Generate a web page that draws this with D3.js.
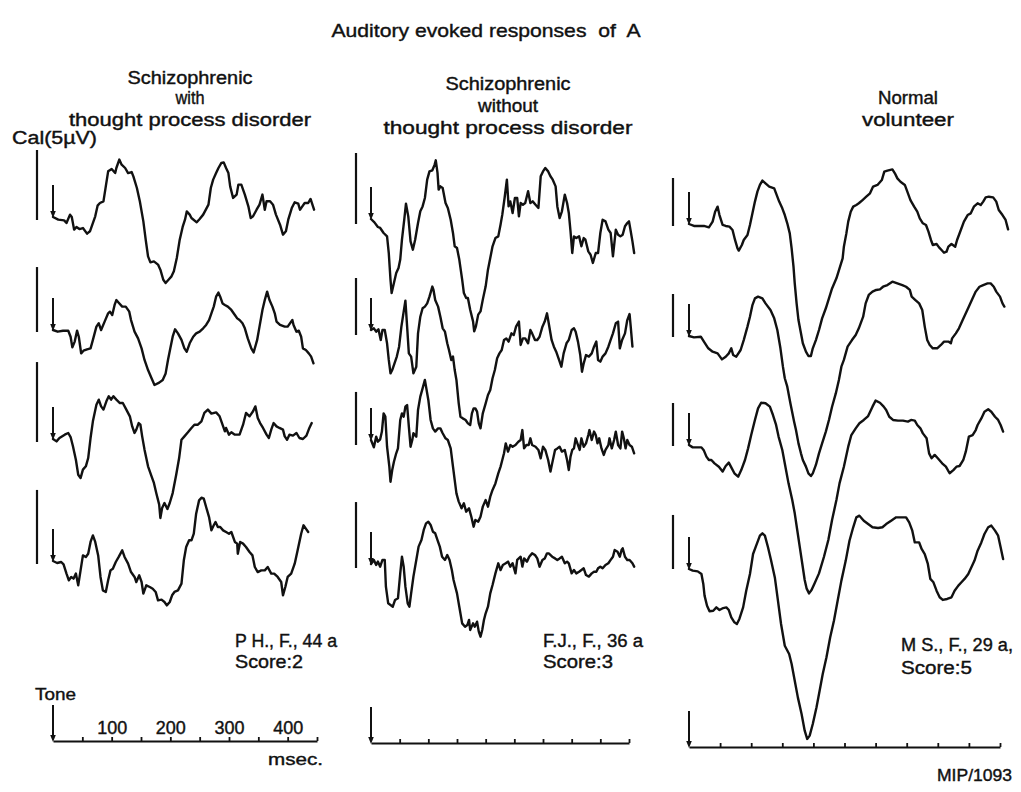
<!DOCTYPE html>
<html>
<head>
<meta charset="utf-8">
<script src="https://cdn.jsdelivr.net/npm/d3@7"></script>
<style>
  html, body { margin: 0; padding: 0; background: #fff; }
  svg { display: block; }
  text { font-family: "Liberation Sans", Arial, sans-serif; fill: #111; stroke: #111; stroke-width: 0.4px; }
</style>
</head>
<body>
<svg id="chart" width="1021" height="792"></svg>
<script>
// ---- Text content ----
const mainTitle = "Auditory evoked responses  of  A";
const groupTitles = [
  ["Schizophrenic", "with", "thought process disorder"],
  ["Schizophrenic", "without", "thought process disorder"],
  ["Normal", "volunteer"]
];
const subjects = ["P H., F., 44 a", "F.J., F., 36 a", "M S., F., 29 a,"];
const scores = ["Score:2", "Score:3", "Score:5"];
const calLabel = "Cal(5\u00b5V)";
const toneLabel = "Tone";
const unitLabel = "msec.";
const figureId = "MIP/1093";

// ---- Time base (ms) ----
const sweepMs = [450, 450, 500];
const tickStepMs = 50;
const tickLabels = [100, 200, 300, 400];

// Height of the 5 µV calibration pulse for each recording, in trace deflection units
const calDeflection = [
  [5.0, 4.64, 5.71, 5.29],
  [5.07, 4.07, 3.79, 4.71],
  [3.43, 3.07, 3.07, 3.86]
];

// ---- Evoked responses: [time ms, deflection] (positive = up) ----
// Schizophrenic with thought process disorder (P.H.)
const p1r1 = [[0,0],[9,-0.19],[19,-0.24],[23,-0.43],[29,0.17],[32,0],[36,-0.9],[40,-0.71],[45,-0.86],[51,-0.79],[58,-1.19],[63,-1.02],[72,0.05],[76,0.81],[80,1.0],[86,1.12],[90,2.19],[94,3.26],[100,3.43],[106,3.14],[108,3.5],[113,4.1],[117,3.74],[123,3.5],[128,3.14],[134,3.21],[137,2.9],[143,2.07],[148,1.12],[154,-0.31],[158,-1.62],[162,-2.81],[166,-3.24],[172,-3.17],[179,-3.4],[183,-3.76],[188,-4.48],[192,-4.71],[198,-4.43],[202,-4.24],[206,-3.88],[211,-2.93],[216,-1.62],[221,-0.71],[225,-0.19],[228,0.4],[233,0.17],[236,-0.07],[245,-0.38],[250,-0.14],[256,0.17],[265,0.88],[269,2.07],[273,2.67],[278,3.14],[282,3.5],[287,3.86],[291,3.9],[295,3.5],[299,3.14],[302,2.19],[307,1.36],[313,1.6],[316,2.31],[321,2.31],[327,1.6],[333,0.76],[337,-0.07],[341,0.05],[347,0.52],[352,0.88],[357,1.6],[361,0.52],[364,1.12],[370,1.12],[375,0.88],[380,0.17],[387,-0.55],[392,-1.26],[397,-1.02],[401,-0.19],[407,0.64],[412,1.05],[418,0.95],[421,0.52],[425,0.76],[429,1.0],[435,1.0],[439,1.29],[445,0.52]];
const p1r2 = [[0,0],[8,-0.12],[17,-0.05],[26,-0.05],[30,-0.48],[33,-1.24],[37,-0.83],[41,-0.05],[44,-0.48],[48,-1.67],[52,-1.48],[58,-1.38],[64,-1.31],[68,-0.71],[74,0.24],[78,0.48],[82,0],[88,0.6],[94,1.19],[97,1.31],[101,1.07],[105,1.79],[108,2.14],[112,1.95],[118,1.67],[124,1.67],[130,1.31],[133,0.71],[139,-0.12],[145,-0.6],[151,-1.31],[156,-2.14],[162,-2.86],[168,-3.45],[173,-3.93],[181,-3.76],[187,-3.57],[192,-3.1],[196,-2.14],[200,-1.31],[204,-0.48],[208,0.05],[213,-0.24],[219,-0.71],[224,-1.31],[228,-1.55],[233,-0.95],[239,-0.48],[244,-0.24],[250,-0.12],[256,0.12],[261,0.36],[266,0.71],[270,1.19],[274,1.67],[278,2.38],[282,2.67],[285,2.38],[289,1.9],[293,1.79],[298,1.67],[304,1.43],[310,1.07],[314,0.83],[318,0.71],[323,0.48],[327,0.12],[332,-0.6],[338,-1.31],[342,-1.6],[348,-0.71],[352,0.24],[357,1.43],[361,2.14],[365,2.74],[369,2.14],[374,1.67],[378,1.19],[381,0.6],[387,0.36],[395,0.24],[400,0.24],[408,0.71],[410,0.36],[415,-0.12],[419,-0.05],[423,-0.48],[426,-1.31],[431,-1.43],[436,-1.67],[440,-1.9],[444,-2.38]];
const p1r3 = [[0,0],[6,-0.17],[11,0.07],[20,0.31],[26,0.43],[30,0.14],[34,-0.52],[39,-1.48],[43,-2.55],[47,-2.79],[51,-2.19],[56,-1.95],[60,-1.36],[64,0.07],[68,1.26],[74,2.45],[78,2.81],[82,2.33],[86,2.1],[91,2.69],[95,3.05],[99,2.81],[103,3.05],[108,2.81],[114,2.57],[119,2.57],[125,2.1],[131,1.62],[135,0.9],[139,0.43],[142,0.67],[146,1.14],[149,1.02],[152,0.19],[156,-0.76],[162,-1.95],[168,-2.67],[172,-3.14],[176,-3.86],[181,-4.69],[183,-5.64],[186,-4.93],[190,-4.57],[195,-5.0],[199,-4.57],[204,-3.86],[210,-2.55],[215,-1.36],[219,-0.05],[224,0.19],[230,0.48],[236,0.79],[241,1.02],[247,1.02],[253,1.26],[258,1.86],[264,2.1],[270,1.81],[278,1.9],[284,1.62],[290,0.9],[293,0.55],[295,0.79],[300,0.31],[304,0.48],[310,0.31],[318,0.31],[324,1.02],[329,1.86],[335,1.62],[341,1.98],[345,2.33],[349,1.5],[353,1.14],[358,0.79],[364,0.31],[368,0.07],[372,0.67],[376,1.14],[381,0.9],[386,0.79],[392,0.67],[395,0.19],[399,-0.05],[403,0.31],[409,0.24],[415,0.43],[420,0.07],[426,0],[432,0.24],[437,0.79],[441,1.14]];
const p1r4 = [[0,0],[7,-0.14],[14,-0.07],[18,-0.24],[23,-0.9],[27,-1.38],[31,-1.14],[35,-1.26],[39,-0.9],[43,-1.74],[47,-0.67],[51,0.4],[56,0.29],[60,0.52],[64,1.36],[68,1.83],[72,1.36],[77,0.4],[81,-1.14],[85,-2.1],[90,-2.21],[94,-1.38],[98,-0.67],[102,-0.55],[107,-0.07],[112,0.29],[118,0.76],[122,0.29],[128,-0.19],[133,-0.79],[139,-1.14],[142,-1.5],[147,-1.02],[151,-1.5],[154,-2.33],[159,-1.74],[165,-1.86],[170,-1.98],[175,-2.21],[179,-2.81],[185,-2.76],[190,-2.93],[194,-3.17],[199,-2.93],[203,-2.45],[207,-2.21],[213,-2.1],[219,-1.62],[223,0.05],[227,1.0],[232,1.48],[236,1.48],[240,1.95],[244,3.38],[249,4.33],[253,4.52],[257,4.45],[261,3.86],[266,3.14],[270,2.19],[274,2.55],[277,2.79],[281,2.43],[285,2.43],[290,2.19],[295,2.07],[300,1.95],[304,2.07],[310,1.36],[314,1.24],[315,0.52],[319,1.36],[324,1.24],[329,1.0],[335,0.64],[340,0.4],[344,-0.43],[349,-0.79],[355,-0.67],[361,-0.67],[366,-0.43],[372,-0.9],[377,-0.9],[383,-1.14],[389,-1.5],[392,-2.45],[396,-1.86],[400,-1.14],[406,-0.9],[412,-0.19],[417,0.76],[423,1.95],[427,2.55],[431,2.31],[435,2.07]];

// Schizophrenic without thought process disorder (F.J.)
const p2r1 = [[0,0],[6,-0.24],[12,-0.57],[16,-0.64],[22,-1.0],[28,-1.24],[31,-2.43],[34,-4.33],[36,-5.29],[40,-4.57],[44,-3.86],[48,-3.5],[51,-2.9],[54,-1.48],[58,-0.05],[61,1.1],[65,0.19],[69,-1.6],[73,-2.19],[77,-1.48],[82,-0.29],[86,0.55],[90,0.9],[94,1.5],[98,2.81],[102,3.4],[107,3.48],[111,3.88],[113,4.19],[116,3.29],[118,2.1],[121,2.33],[125,2.21],[130,1.14],[134,0.79],[139,-0.05],[143,-1.0],[146,-1.95],[150,-2.07],[154,-2.9],[159,-4.33],[162,-5.29],[166,-5.64],[169,-5.64],[173,-6.48],[178,-7.31],[180,-8.02],[183,-7.67],[187,-6.83],[191,-6.6],[195,-5.76],[200,-4.81],[204,-3.62],[208,-2.79],[212,-1.95],[217,-1.36],[222,-1.24],[226,-0.4],[229,0.31],[233,1.5],[237,2.81],[240,0.9],[243,1.26],[247,0.43],[251,1.5],[255,1.5],[258,0.19],[261,1.14],[265,1.02],[269,1.14],[274,1.98],[278,1.14],[282,1.26],[287,1.02],[292,0.79],[296,3.05],[300,3.4],[304,3.64],[309,3.4],[313,3.05],[317,2.81],[322,2.33],[325,0.9],[329,0.07],[333,0.55],[338,1.74],[342,1.14],[345,0.43],[348,-0.88],[351,-2.43],[354,-1.24],[358,-1.36],[363,-1.24],[367,-1.95],[371,-1.36],[374,-1.48],[379,-2.31],[383,-2.55],[387,-3.14],[392,-2.43],[396,-2.43],[400,-1.0],[404,-0.05],[409,-0.17],[414,-0.76],[418,-1.0],[422,-2.67],[427,-0.76],[431,-1.12],[435,-1.24],[439,-1.12],[443,-0.52],[447,-0.29],[450,-0.17],[453,-0.88],[456,-1.6],[459,-2.43]];
const p2r2 = [[0,0],[5,0.12],[9,-0.12],[13,0.05],[17,-0.71],[20,0],[24,0],[28,-0.95],[31,-2.14],[34,-3.1],[37,-2.86],[41,-2.38],[45,-1.9],[49,-1.19],[53,0.24],[57,1.31],[60,2.1],[63,0.24],[66,-1.67],[70,-1.9],[74,-3.1],[79,-2.62],[82,-0.24],[86,0.95],[90,1.55],[94,1.67],[98,1.9],[102,2.38],[107,3.1],[109,2.86],[112,2.14],[117,1.67],[121,0.95],[125,0.12],[129,-0.12],[133,-0.95],[136,-1.43],[140,-2.14],[143,-1.9],[146,-2.86],[149,-3.57],[153,-5.24],[156,-6.19],[160,-6.31],[165,-6.43],[169,-6.67],[173,-6.79],[176,-5.95],[179,-5.6],[182,-5.6],[185,-5.83],[188,-6.67],[191,-7.02],[195,-5.95],[200,-5.24],[204,-4.64],[208,-4.29],[212,-3.45],[216,-2.86],[220,-2.02],[224,-1.67],[228,-1.43],[232,-0.71],[236,-0.6],[240,-0.83],[245,-0.24],[249,-0.36],[253,0.24],[258,0.6],[261,-1.07],[265,-0.6],[269,-0.6],[274,-0.95],[278,0],[281,-0.24],[286,-0.71],[290,-0.71],[294,-0.48],[299,0.24],[303,0.6],[307,1.19],[310,0.48],[315,-0.71],[319,-1.19],[323,-1.55],[328,-2.14],[332,-2.62],[336,-1.67],[341,-0.95],[345,-0.71],[350,0],[354,0.12],[357,-0.12],[361,-0.83],[365,-1.79],[368,-2.98],[371,-2.38],[375,-1.79],[380,-1.9],[385,-1.67],[389,-1.19],[393,-0.83],[396,-2.14],[400,-2.26],[404,-1.9],[409,-1.67],[414,-1.19],[418,-0.71],[422,-0.24],[427,0.48],[431,0.6],[434,-1.31],[438,-0.71],[443,-0.24],[447,0.71],[451,1.14],[453,0.24],[456,-1.19]];
const p2r3 = [[0,0],[5,-0.52],[9,0.24],[12,-0.12],[16,0.05],[19,0.6],[22,1.9],[25,1.67],[28,-0.48],[32,-1.9],[34,-2.98],[37,-2.14],[40,-1.55],[44,-0.95],[47,-0.6],[51,1.43],[54,1.9],[57,1.67],[60,2.38],[63,2.5],[66,0.95],[69,-0.48],[72,0],[74,0.48],[79,0.24],[82,2.14],[86,3.1],[90,3.69],[94,4.29],[96,3.81],[100,2.86],[104,1.43],[108,0.83],[112,0.6],[117,0.83],[121,0.83],[125,0.48],[130,0.12],[134,0],[139,-0.6],[143,-1.9],[146,-2.86],[149,-3.81],[153,-4.4],[158,-4.88],[162,-4.52],[166,-5.12],[171,-4.88],[175,-5.48],[179,-6.19],[182,-5.71],[187,-5.83],[191,-5.48],[195,-4.76],[200,-4.29],[204,-4.76],[208,-4.05],[212,-3.57],[217,-3.1],[222,-2.38],[226,-1.9],[229,-1.43],[232,-0.95],[235,-0.24],[239,-0.83],[243,-0.36],[247,-0.48],[252,-0.36],[257,-0.12],[261,0],[264,0.71],[267,-0.6],[271,-0.36],[275,-0.36],[278,0.12],[281,-0.36],[287,-0.48],[292,-0.71],[296,-1.31],[300,-0.48],[304,-0.71],[309,-1.43],[313,-2.26],[316,-1.67],[321,-0.71],[325,-0.6],[329,-0.48],[333,-0.83],[338,-0.71],[342,-1.43],[345,-2.14],[348,-1.19],[351,-0.71],[354,-0.6],[357,0.12],[360,-0.24],[364,-0.71],[367,0.12],[371,-0.48],[375,-0.24],[379,0.36],[381,0.71],[385,0],[389,0.6],[392,0.36],[395,-0.24],[398,0.12],[402,-0.6],[406,-1.07],[409,-0.71],[414,-0.36],[416,0.12],[420,-0.6],[424,0],[427,0.6],[431,-0.36],[435,-0.6],[438,0.6],[441,0.12],[444,-0.6],[447,0],[451,-0.36],[455,-0.48],[459,-0.95]];
const p2r4 = [[0,0],[5,0.29],[9,-0.07],[12,0.17],[16,-0.19],[20,0.29],[24,0.29],[26,-1.62],[30,-2.81],[34,-2.93],[38,-3.05],[42,-2.57],[47,-2.45],[51,-0.67],[54,0.52],[57,-0.19],[60,-1.62],[64,-2.81],[67,-3.05],[70,-2.1],[74,-0.9],[79,0.29],[83,1.24],[88,1.71],[92,2.43],[96,2.9],[100,3.02],[104,2.79],[108,2.31],[112,2.19],[116,1.71],[120,1.24],[124,0.52],[129,0.29],[133,0.64],[137,0.29],[141,-0.43],[144,-1.14],[147,-1.62],[150,-2.1],[154,-3.05],[159,-4.24],[164,-4.48],[168,-4.36],[171,-4.0],[173,-4.71],[178,-4.24],[181,-4.48],[185,-4.12],[188,-4.83],[191,-5.19],[194,-4.71],[197,-4.0],[200,-3.52],[204,-3.05],[208,-2.1],[212,-1.5],[217,-0.67],[222,0.05],[226,-0.43],[230,-0.07],[235,0.05],[239,0.17],[243,-0.19],[247,0.05],[252,-0.67],[255,0.29],[261,0.52],[264,-0.19],[267,0.4],[272,0.17],[276,0.52],[281,0.76],[286,0.64],[290,0.4],[294,-0.19],[299,0.29],[303,0.4],[307,0.76],[310,0.76],[316,0.52],[321,0.4],[325,0.29],[329,0.4],[333,0.52],[338,0.05],[342,0.17],[345,0.05],[350,-0.67],[354,-0.43],[358,-0.67],[363,-0.55],[367,-0.43],[371,-0.31],[375,-0.79],[380,-0.9],[385,-0.67],[389,-0.55],[393,-0.55],[396,-0.31],[400,-0.19],[404,-0.31],[409,-0.07],[414,0.05],[418,0.29],[422,0.52],[425,1.0],[430,0.88],[434,0.52],[437,1.0],[439,1.12],[443,0.52],[447,0.29],[451,0.29],[456,0.05],[459,-0.19]];

// Normal volunteer (M.S.)
const p3r1 = [[0,0],[8,-0.14],[16,-0.14],[24,-0.14],[32,-0.24],[38,0.17],[42,0.88],[46,1.24],[49,0.64],[54,-0.07],[59,-0.14],[65,-0.19],[70,-0.43],[74,-1.14],[78,-1.74],[80,-1.9],[85,-1.5],[88,-1.14],[94,-0.79],[98,-0.07],[102,0.76],[106,1.6],[110,2.31],[114,2.79],[118,3.1],[123,2.9],[129,2.67],[137,2.55],[140,2.19],[145,1.6],[150,1.12],[154,0.64],[158,0.05],[162,-0.67],[165,-1.74],[168,-3.05],[170,-4.24],[173,-5.67],[176,-6.86],[180,-7.81],[183,-8.52],[188,-9.12],[192,-9.43],[196,-9.43],[199,-8.88],[204,-8.29],[209,-7.57],[214,-6.74],[220,-6.02],[225,-5.31],[230,-4.6],[237,-3.88],[242,-3.17],[247,-2.45],[249,-1.62],[253,-0.67],[256,0.17],[260,0.88],[264,1.24],[269,1.36],[273,1.48],[279,1.71],[285,1.95],[291,2.19],[296,2.67],[303,2.79],[310,3.14],[314,3.74],[319,3.81],[327,3.9],[331,3.62],[335,3.26],[340,3.02],[347,2.79],[351,2.31],[356,1.71],[362,1.24],[367,0.88],[371,0.4],[376,0.05],[381,-0.07],[385,-0.55],[389,-1.14],[392,-1.5],[398,-1.43],[402,-1.67],[406,-1.86],[410,-2.05],[414,-1.98],[417,-1.62],[422,-1.43],[428,-1.62],[431,-1.14],[437,-0.43],[442,0.17],[448,0.64],[453,0.76],[458,1.24],[464,1.48],[469,1.36],[473,1.6],[477,1.9],[482,1.95],[489,1.9],[494,1.6],[498,1.0],[504,0.64],[509,0.29],[513,-0.38]];
const p3r2 = [[0,0],[8,-0.1],[19,-0.05],[24,-0.4],[31,-0.88],[38,-1.12],[46,-1.24],[53,-1.67],[59,-1.48],[64,-1.24],[68,-0.88],[71,-1.36],[76,-1.48],[83,-1.0],[88,-0.29],[94,0.67],[98,1.38],[102,2.21],[106,2.69],[111,2.81],[118,2.69],[123,2.33],[131,1.86],[137,1.26],[142,0.43],[147,-0.88],[151,-2.19],[154,-3.02],[158,-3.62],[163,-4.81],[169,-6.12],[172,-6.71],[176,-7.67],[180,-8.38],[183,-8.86],[188,-9.33],[192,-9.81],[196,-10.0],[199,-9.81],[204,-9.21],[209,-8.38],[214,-7.67],[220,-6.83],[225,-6.0],[230,-5.05],[236,-4.1],[241,-3.14],[245,-2.19],[249,-1.71],[255,-0.76],[262,-0.29],[268,0.07],[273,0.55],[280,1.38],[284,2.33],[289,2.93],[295,3.17],[301,3.29],[307,3.33],[312,3.52],[319,3.64],[327,3.88],[335,3.76],[343,3.64],[349,3.52],[355,3.29],[358,2.81],[364,2.57],[370,2.33],[375,1.86],[379,0.67],[383,-0.29],[387,-0.64],[392,-0.88],[399,-0.88],[405,-0.64],[410,-0.4],[417,-0.4],[421,-0.52],[423,-0.17],[429,0.19],[434,0.55],[440,1.14],[445,1.62],[450,2.1],[456,2.69],[461,3.17],[467,3.52],[473,3.64],[480,3.76],[485,3.76],[490,3.52],[494,3.17],[500,2.81],[504,2.33],[507,2.1]];
const p3r3 = [[0,0],[6,-0.17],[14,-0.17],[20,-0.17],[24,-0.4],[28,-0.83],[32,-1.07],[36,-1.07],[41,-1.31],[48,-1.55],[54,-1.9],[59,-1.5],[64,-1.26],[68,-1.6],[73,-2.02],[79,-2.26],[84,-1.79],[90,-1.07],[95,-0.24],[100,0.71],[106,1.79],[111,2.62],[116,3.02],[123,2.98],[130,2.74],[135,2.14],[140,1.43],[144,0.6],[150,-0.36],[155,-1.55],[160,-2.74],[166,-3.93],[170,-4.88],[174,-6.07],[178,-7.26],[182,-8.45],[186,-9.64],[189,-10.24],[193,-10.6],[197,-10.36],[202,-9.88],[209,-9.17],[217,-7.98],[224,-6.79],[230,-5.36],[237,-3.93],[242,-2.74],[249,-1.55],[256,-0.12],[261,0.71],[268,1.19],[274,1.55],[281,1.79],[288,2.07],[295,2.74],[300,3.17],[307,3.02],[313,2.74],[317,2.5],[322,2.02],[328,1.79],[336,1.74],[344,1.74],[352,1.67],[357,1.79],[363,1.74],[367,1.43],[372,1.19],[376,0.83],[382,0.48],[386,-0.6],[390,-0.95],[395,-0.71],[400,-0.95],[407,-1.31],[413,-1.55],[419,-2.02],[425,-1.79],[430,-1.55],[435,-1.5],[441,-1.07],[445,-0.48],[450,0.6],[456,0.71],[461,1.07],[464,1.43],[470,1.9],[475,2.38],[481,2.55],[486,2.38],[492,2.02],[497,1.79],[501,1.43],[505,0.95]];
const p3r4 = [[0,0],[6,-0.12],[14,-0.17],[20,-0.36],[23,-1.07],[25,-1.9],[29,-2.62],[33,-3.02],[39,-2.98],[44,-2.74],[49,-2.93],[55,-2.79],[60,-2.74],[64,-2.93],[68,-3.45],[73,-3.81],[77,-3.93],[81,-3.57],[87,-2.74],[92,-1.55],[98,-0.36],[103,1.07],[108,1.67],[114,2.38],[118,2.55],[122,2.38],[127,1.55],[132,0.6],[138,-0.6],[143,-2.26],[148,-3.93],[154,-5.48],[161,-6.07],[165,-6.79],[170,-7.98],[175,-9.17],[181,-10.36],[186,-11.55],[190,-12.14],[194,-11.9],[199,-11.07],[205,-9.88],[210,-8.69],[215,-7.5],[221,-6.31],[227,-4.88],[233,-3.69],[238,-2.5],[245,-0.83],[252,0.6],[258,2.02],[264,2.98],[269,3.69],[274,3.81],[281,3.45],[288,3.21],[295,2.98],[304,2.93],[311,2.98],[317,3.21],[325,3.45],[333,3.69],[341,3.69],[349,3.69],[354,3.33],[359,2.74],[363,1.9],[370,1.9],[374,1.43],[379,1.07],[384,0.36],[388,-0.71],[393,-0.95],[398,-1.55],[403,-2.02],[408,-2.21],[415,-2.14],[422,-2.02],[427,-1.55],[433,-1.19],[438,-0.95],[443,-0.71],[449,-0.36],[454,0.12],[459,0.6],[464,1.31],[470,1.9],[475,2.5],[481,2.98],[486,3.1],[492,2.74],[497,2.38],[501,1.55],[505,0.71]];

const traces = [
  [p1r1, p1r2, p1r3, p1r4],
  [p2r1, p2r2, p2r3, p2r4],
  [p3r1, p3r2, p3r3, p3r4]
];

// ---- Layout (pixels) ----
const xRanges = [[53, 317], [371, 629], [689, 1000]];
const baselines = [[217, 330, 439, 561], [219, 330, 440, 564], [224, 336, 445, 569]];
const calBarX = [37, 356, 673];
const calBarDrop = [[3, 2, 3, 3], [5, 5, 5, 4], [2, 1, 1, 0]];
const axisYs = [741, 743, 747];
const pxPerUnit = 14;      // trace gain
const toneArrowLen = 32;   // marker height above each trace start
const axisArrowLen = 36;

const titleCenters = [190, 508, 908];
const titleBaselines = [[84, 104, 126], [90, 112, 134], [104, 126]];
const titleWidths = [[125, 29, 242], [125, 60, 249], [60, 92]];
const subjectX = [235, 543, 901];
const subjectY = [[647, 668], [647, 668], [651, 674]];
const subjectW = [[102, 68], [100, 70], [112, 71]];

const svg = d3.select("#chart");
const INK = "#111";

function arrowHead(sel, x, y) {
  sel.append("path")
    .attr("d", `M${x - 2.8},${y - 7} L${x + 2.8},${y - 7} L${x},${y} Z`)
    .attr("fill", INK);
}

function fitText(sel, str, x, y, size, width, anchor) {
  const t = sel.append("text")
    .attr("x", x).attr("y", y)
    .attr("font-size", size)
    .attr("text-anchor", anchor || "start")
    .style("white-space", "pre")
    .text(str);
  if (width) t.attr("textLength", width).attr("lengthAdjust", "spacingAndGlyphs");
  return t;
}

// Main title
fitText(svg, mainTitle, 486, 37, 19, 309, "middle");

// Calibration label
fitText(svg, calLabel, 12, 144, 18, 85, "start");

traces.forEach((panel, p) => {
  const g = svg.append("g").attr("class", "panel");
  const x = d3.scaleLinear().domain([0, sweepMs[p]]).range(xRanges[p]);

  // Group heading
  groupTitles[p].forEach((line, i) => {
    fitText(g, line, titleCenters[p], titleBaselines[p][i], 17.5, titleWidths[p][i], "middle");
  });

  panel.forEach((series, r) => {
    const b = baselines[p][r];
    const y = d3.scaleLinear().domain([0, 1]).range([b, b - pxPerUnit]);

    // Calibration bar (5 µV)
    const drop = calBarDrop[p][r];
    g.append("line")
      .attr("x1", calBarX[p]).attr("x2", calBarX[p])
      .attr("y1", y(0) + drop).attr("y2", y(calDeflection[p][r]) + drop)
      .attr("stroke", INK).attr("stroke-width", 2.2);

    // Stimulus onset marker
    const x0 = x(series[0][0]);
    g.append("line")
      .attr("x1", x0).attr("x2", x0)
      .attr("y1", y(series[0][1]) - toneArrowLen).attr("y2", y(series[0][1]) - 3)
      .attr("stroke", INK).attr("stroke-width", 2);
    arrowHead(g, x0, y(series[0][1]) + 1);

    // Averaged response
    g.append("path")
      .datum(series)
      .attr("d", d3.line().x(d => x(d[0])).y(d => y(d[1])))
      .attr("fill", "none")
      .attr("stroke", INK)
      .attr("stroke-width", 2.4)
      .attr("stroke-linejoin", "round")
      .attr("stroke-linecap", "round");
  });

  // Time axis
  const ay = axisYs[p];
  const axis = d3.axisTop(x)
    .tickValues(d3.range(tickStepMs, sweepMs[p] + 1, tickStepMs))
    .tickSize(4)
    .tickSizeOuter(0)
    .tickPadding(3)
    .tickFormat(d => (p === 0 && tickLabels.includes(d)) ? String(d) : "");
  const ag = g.append("g").attr("transform", `translate(0,${ay})`).call(axis);
  ag.select(".domain").attr("stroke", INK).attr("stroke-width", 2);
  ag.selectAll(".tick line").attr("stroke", INK).attr("stroke-width", 1.8);
  ag.selectAll(".tick text")
    .attr("font-size", 18)
    .attr("fill", INK)
    .attr("textLength", 30)
    .attr("lengthAdjust", "spacingAndGlyphs")
    .style("font-family", "\"Liberation Sans\", Arial, sans-serif");

  const xa = x(0);
  g.append("line")
    .attr("x1", xa).attr("x2", xa)
    .attr("y1", ay - axisArrowLen).attr("y2", ay - 3)
    .attr("stroke", INK).attr("stroke-width", 2);
  arrowHead(g, xa, ay + 1);

  // Subject / score
  fitText(g, subjects[p], subjectX[p], subjectY[p][0], 18, subjectW[p][0], "start");
  fitText(g, scores[p], subjectX[p], subjectY[p][1], 18, subjectW[p][1], "start");
});

// Axis annotations
fitText(svg, toneLabel, 35, 700, 17, 41, "start");
fitText(svg, unitLabel, 268, 765, 17, 55, "start");
fitText(svg, figureId, 937, 781, 17, 75, "start");
</script>
</body>
</html>
